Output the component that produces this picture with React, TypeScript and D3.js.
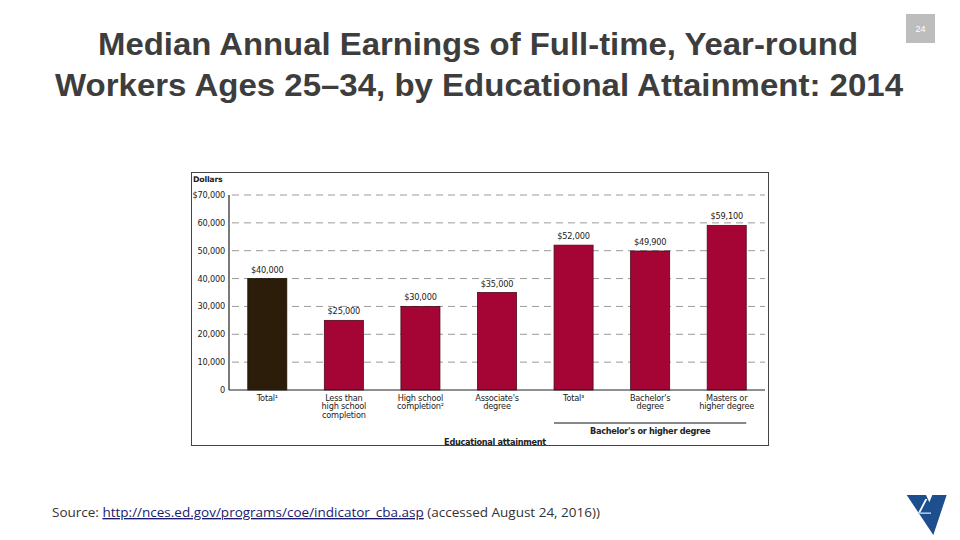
import * as d3 from 'd3';

const categories = [
  'total',
  'lessHs',
  'hs',
  'assoc',
  'totalBa',
  'ba',
  'masters',
];
const categoryLines = [
  ['Total¹'],
  ['Less than', 'high school', 'completion'],
  ['High school', 'completion²'],
  ["Associate's", 'degree'],
  ['Total³'],
  ["Bachelor's", 'degree'],
  ['Masters or', 'higher degree'],
];
const earnings = [40000, 25000, 30000, 35000, 52000, 49900, 59100];
const valueLabels = ['$40,000', '$25,000', '$30,000', '$35,000', '$52,000', '$49,900', '$59,100'];
const yTicks = [0, 10000, 20000, 30000, 40000, 50000, 60000, 70000];
const yTickLabels = ['0', '10,000', '20,000', '30,000', '40,000', '50,000', '60,000', '$70,000'];
const bachelorGroup = ['totalBa', 'ba', 'masters'];

const titleLines = [
  'Median Annual Earnings of Full-time, Year-round',
  'Workers Ages 25–34, by Educational Attainment: 2014',
];

const chartFont = "'DejaVu Sans', sans-serif";
const labelSize = 8.2;

export default function App() {
  const x = d3
    .scaleBand<string>()
    .domain(categories)
    .range([229, 765])
    .paddingInner(0.49)
    .paddingOuter(0.245);
  const y = d3.scaleLinear().domain([0, 70000]).range([390, 195]);

  const groupStart = x(bachelorGroup[0])!;
  const groupEnd = x(bachelorGroup[bachelorGroup.length - 1])! + x.bandwidth();

  return (
    <svg
      width={960}
      height={540}
      style={{ position: 'fixed', left: 0, top: 0, background: '#fff' }}
    >
      {/* title */}
      <g fontFamily="'Liberation Sans', Arial, sans-serif" fontWeight="bold" fill="#3d3d3d" fontSize={30.5}>
        <text x={478} y={55} textAnchor="middle" textLength={760} lengthAdjust="spacingAndGlyphs">
          {titleLines[0]}
        </text>
        <text x={479} y={96} textAnchor="middle" textLength={848} lengthAdjust="spacingAndGlyphs">
          {titleLines[1]}
        </text>
      </g>

      {/* page number */}
      <rect x={906} y={14} width={29} height={29} fill="#bdbdbd" />
      <text x={920.5} y={32} textAnchor="middle" fontSize={9} fill="#fff" fontFamily="'Liberation Sans', Arial, sans-serif">
        24
      </text>

      {/* chart frame */}
      <rect x={191.5} y={172.5} width={577} height={273} fill="#fff" stroke="#444" strokeWidth={1} />
      <text x={193} y={182} fontSize={7.8} fontFamily={chartFont} fill="#222" fontWeight="bold" letterSpacing={-0.2}>
        Dollars
      </text>

      {/* gridlines */}
      {yTicks
        .filter((t) => t > 0)
        .map((t) => (
          <line
            key={t}
            x1={232}
            x2={765}
            y1={y(t)}
            y2={y(t)}
            stroke="#9a9a9a"
            strokeWidth={1}
            strokeDasharray="7,5"
          />
        ))}

      {/* y tick labels */}
      {yTicks.map((t, i) => (
        <text
          key={t}
          x={225}
          y={y(t) + 3}
          textAnchor="end"
          fontSize={labelSize}
          fontFamily={chartFont}
          fill="#222"
          letterSpacing={-0.2}
        >
          {yTickLabels[i]}
        </text>
      ))}

      {/* bars */}
      {categories.map((c, i) => (
        <g key={c}>
          <rect
            x={x(c)!}
            y={y(earnings[i])}
            width={x.bandwidth()}
            height={y(0) - y(earnings[i])}
            fill={i === 0 ? '#2b1d09' : '#a50535'}
            stroke={i === 0 ? '#1e1406' : '#4a0a1a'}
            strokeWidth={0.8}
          />
          <text
            x={x(c)! + x.bandwidth() / 2}
            y={y(earnings[i]) - 6}
            textAnchor="middle"
            fontSize={labelSize}
            fontFamily={chartFont}
            fill="#222"
            letterSpacing={-0.2}
          >
            {valueLabels[i]}
          </text>
          {categoryLines[i].map((line, j) => (
            <text
              key={j}
              x={x(c)! + x.bandwidth() / 2}
              y={400.5 + j * 8.9}
              textAnchor="middle"
              fontSize={labelSize}
              fontFamily={chartFont}
              fill="#222"
              letterSpacing={-0.2}
            >
              {line}
            </text>
          ))}
        </g>
      ))}

      {/* axes */}
      <line x1={229} x2={229} y1={y(70000)} y2={y(0)} stroke="#222" strokeWidth={1.2} />
      <line x1={229} x2={765} y1={y(0)} y2={y(0)} stroke="#222" strokeWidth={1.2} />

      {/* group bracket */}
      <line x1={groupStart} x2={groupEnd} y1={423} y2={423} stroke="#111" strokeWidth={1} />
      <text
        x={(groupStart + groupEnd) / 2}
        y={434}
        textAnchor="middle"
        fontSize={labelSize}
        fontWeight="bold"
        fontFamily={chartFont}
        fill="#222"
        letterSpacing={-0.3}
      >
        Bachelor's or higher degree
      </text>
      <text
        x={495}
        y={444.5}
        textAnchor="middle"
        fontSize={labelSize}
        fontWeight="bold"
        fontFamily={chartFont}
        fill="#222"
        letterSpacing={-0.3}
      >
        Educational attainment
      </text>

      {/* source */}
      <text x={52} y={517} fontSize={13.5} fontFamily="'Open Sans', 'DejaVu Sans', sans-serif" fill="#333">
        <tspan>Source: </tspan>
        <tspan fill="#1a1a6e" textDecoration="underline">
          http://nces.ed.gov/programs/coe/indicator_cba.asp
        </tspan>
        <tspan> (accessed August 24, 2016))</tspan>
      </text>

      {/* logo */}
      <g transform="translate(900,485) scale(0.3333)">
        <polygon points="20,30 140,30 100,150" fill="#1d4f8f" />
        <polygon points="78,30 97,30 88,52" fill="#fff" />
        <polygon points="76,42 82,42 60,84 54,84" fill="#fff" />
        <rect x={55} y={82} width={38} height={5} fill="#9fc3e8" />
      </g>
    </svg>
  );
}
